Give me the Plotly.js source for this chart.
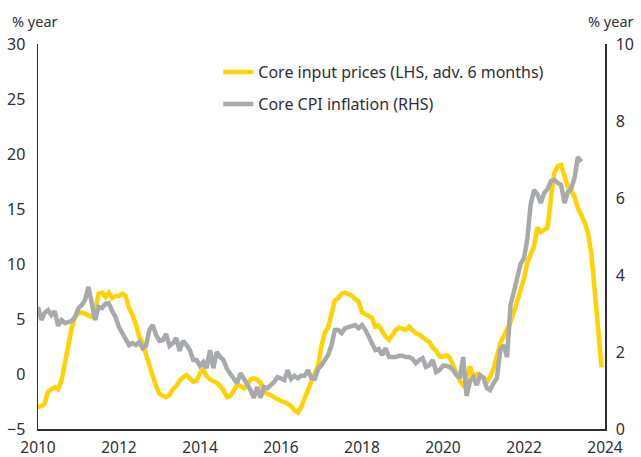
<!DOCTYPE html>
<html>
<head>
<meta charset="utf-8">
<script src="https://cdn.plot.ly/plotly-3.0.1.min.js"></script>
<style>html,body{margin:0;padding:0;background:#fff;}#chart{width:641px;height:457px;}</style>
</head>
<body>
<div id="chart"></div>
<script>
// Monthly series, starting January 2010
const startYear = 2010;
const coreInputPrices = [
 -3.0,-2.9,-2.7,-1.6,-1.4,-1.2,-1.4,-0.6,1.0,2.7,4.2,5.2,
 5.5,5.6,5.5,5.4,5.2,5.8,7.3,7.4,7.0,7.4,6.9,7.1,
 7.1,7.3,7.1,6.0,5.4,4.5,3.4,2.8,1.7,0.7,-0.2,-1.1,
 -1.8,-2.0,-2.1,-1.9,-1.4,-1.1,-0.6,-0.3,-0.1,-0.4,-0.7,-0.6,
 0.1,0.4,-0.2,-0.5,-0.6,-0.8,-1.1,-1.5,-2.1,-2.0,-1.5,-1.0,
 -1.1,-1.3,-1.0,-0.5,-0.4,-0.5,-0.8,-1.6,-1.8,-1.9,-2.1,-2.3,
 -2.4,-2.5,-2.7,-2.9,-3.3,-3.5,-3.0,-2.2,-1.5,-0.8,-0.1,0.8,
 2.6,3.8,4.2,5.7,6.7,6.9,7.3,7.4,7.3,7.1,6.8,6.6,
 5.6,5.4,5.3,5.1,4.3,4.4,3.9,3.4,3.1,3.5,4.0,4.2,
 4.1,4.0,4.3,4.0,3.7,3.6,3.3,3.1,2.9,2.4,2.1,1.6,
 1.6,1.7,1.5,0.7,0.1,-0.6,-1.0,-0.5,0.7,-0.3,0.0,-0.1,
 -0.3,-0.7,-0.3,0.5,1.7,2.8,3.4,4.0,4.7,5.6,6.7,7.6,
 8.7,10.2,10.9,11.6,13.3,12.9,13.1,13.3,16.0,18.3,18.9,19.0,
 18.0,17.0,16.7,16.1,15.1,14.4,13.8,12.8,10.8,7.5,4.0,0.6
];
const coreCPI = [
 3.17,2.83,3.01,3.09,2.96,3.06,2.68,2.83,2.75,2.78,2.81,2.91,
 3.14,3.22,3.35,3.69,3.30,2.83,3.17,3.14,3.25,3.27,3.06,2.91,
 2.65,2.49,2.34,2.18,2.23,2.18,2.26,2.10,2.16,2.57,2.70,2.44,
 2.29,2.31,2.47,2.16,2.23,2.36,2.03,2.29,2.18,2.05,1.79,1.79,
 1.64,1.74,1.58,2.05,1.58,2.00,1.87,1.79,1.56,1.45,1.32,1.19,
 1.45,1.27,1.17,1.01,0.81,1.09,0.81,1.09,1.06,1.14,1.22,1.35,
 1.32,1.27,1.53,1.30,1.38,1.32,1.38,1.38,1.53,1.32,1.30,1.56,
 1.66,1.79,1.92,2.18,2.57,2.57,2.49,2.62,2.65,2.65,2.70,2.62,
 2.70,2.57,2.39,2.21,2.05,2.08,1.92,2.10,1.87,1.87,1.87,1.90,
 1.90,1.87,1.87,1.82,1.71,1.79,1.84,1.61,1.66,1.79,1.48,1.53,
 1.64,1.64,1.61,1.53,1.40,1.32,1.87,0.86,1.25,1.35,1.14,1.40,
 1.32,1.06,1.01,1.19,1.32,2.05,2.18,1.87,3.22,3.56,4.00,4.29,
 4.44,4.96,5.82,6.21,6.10,5.87,6.13,6.23,6.44,6.47,6.39,6.34,
 5.87,6.16,6.23,6.52,7.06,6.94
];
const seriesNames = ['Core input prices (LHS, adv. 6 months)', 'Core CPI inflation (RHS)'];
const leftTicks = [-5, 0, 5, 10, 15, 20, 25, 30];
const rightTicks = [0, 2, 4, 6, 8, 10];
const xTicks = ['2010','2012','2014','2016','2018','2020','2022','2024'];

function monthDates(n) {
  const out = [];
  for (let i = 0; i < n; i++) {
    const y = startYear + Math.floor(i / 12);
    const m = (i % 12) + 1;
    out.push(y + '-' + (m < 10 ? '0' + m : m) + '-01');
  }
  return out;
}

const YELLOW = '#FFD200';
const GREY = '#A7A9AC';
const INK = '#2E2E38';
const FONT = 'Noto Sans, Liberation Sans, sans-serif';

const traces = [
  {x: monthDates(coreInputPrices.length), y: coreInputPrices, name: seriesNames[0], type: 'scatter', mode: 'lines',
   line: {color: YELLOW, width: 4.5}, yaxis: 'y', legend: 'legend'},
  {x: monthDates(coreCPI.length), y: coreCPI, name: seriesNames[1], type: 'scatter', mode: 'lines',
   line: {color: GREY, width: 4.5}, yaxis: 'y2', legend: 'legend2'}
];

const layout = {
  width: 641, height: 457,
  margin: {l: 38, r: 36, t: 44, b: 28},
  paper_bgcolor: '#fff', plot_bgcolor: '#fff',
  font: {family: FONT, color: INK, size: 15},
  xaxis: {
    type: 'date', range: ['2010-01-01', '2024-01-01'],
    tickvals: xTicks.map(t => t + '-01-01'), ticktext: xTicks,
    showgrid: false, zeroline: false, showline: true, linecolor: INK, linewidth: 1.5,
    ticks: '', ticklabelstandoff: 4, tickfont: {size: 15.5, color: INK}
  },
  yaxis: {
    range: [-5, 30], tickvals: leftTicks, showgrid: false, zeroline: false,
    showline: true, linecolor: INK, linewidth: 1.5, ticks: '', ticklabelstandoff: 8,
    tickfont: {size: 16, color: INK}
  },
  yaxis2: {
    range: [0, 10], tickvals: rightTicks, overlaying: 'y', side: 'right',
    showgrid: false, zeroline: false, showline: true, linecolor: INK, linewidth: 1.5,
    ticks: '', ticklabelstandoff: 6, tickfont: {size: 16, color: INK}
  },
  showlegend: true,
  legend: {x: 0.318, y: 0.927, xanchor: 'left', yanchor: 'middle', bgcolor: 'rgba(0,0,0,0)',
           font: {size: 16, color: INK}},
  legend2: {x: 0.318, y: 0.844, xanchor: 'left', yanchor: 'middle', bgcolor: 'rgba(0,0,0,0)',
           font: {size: 16, color: INK}},
  annotations: [
    {text: '% year', xref: 'paper', yref: 'paper', x: -0.05, y: 1.06, xanchor: 'left', yanchor: 'middle',
     showarrow: false, font: {size: 14.5, color: INK}},
    {text: '% year', xref: 'paper', yref: 'paper', x: 1.055, y: 1.06, xanchor: 'right', yanchor: 'middle',
     showarrow: false, font: {size: 14.5, color: INK}}
  ]
};

Plotly.newPlot('chart', traces, layout, {displayModeBar: false, staticPlot: true});
</script>
</body>
</html>
